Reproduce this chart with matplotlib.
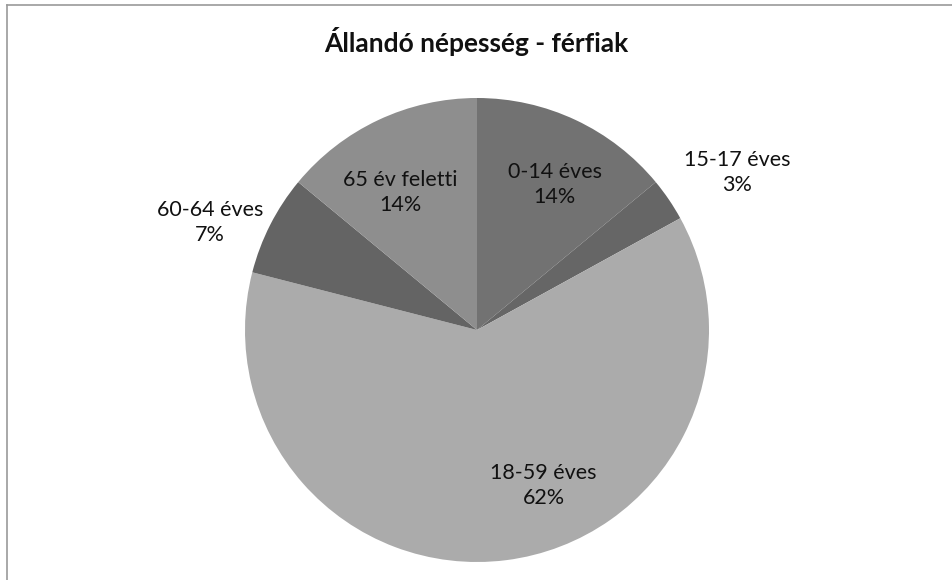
import matplotlib
matplotlib.use("Agg")
import matplotlib.pyplot as plt
import numpy as np

# Data
categories = ["0-14 éves", "15-17 éves", "18-59 éves", "60-64 éves", "65 év feletti"]
values = [14, 3, 62, 7, 14]
title = "Állandó népesség - férfiak"

# Styles
colors = ["#727272", "#666666", "#ababab", "#646464", "#8e8e8e"]
# label placement: (radius fraction, angle offset deg from wedge middle)
label_pos = [(0.71, -3), (1.31, -3), (0.73, 16), (1.24, 5), (0.68, 4)]

plt.rcParams['font.family'] = ['Lato', 'DejaVu Sans']

W, H = 953, 580
fig = plt.figure(figsize=(W / 100, H / 100), dpi=100)
fig.patch.set_facecolor("white")

# frame lines (left and top)
fig.add_artist(plt.Line2D([7 / W, 7 / W], [0, 1 - 5 / H], color="#9a9a9a", lw=1.2))
fig.add_artist(plt.Line2D([7 / W, 1], [1 - 5 / H, 1 - 5 / H], color="#9a9a9a", lw=1.2))

cx, cy, r = 477, 330, 232
ax = fig.add_axes([(cx - r) / W, (H - cy - r) / H, 2 * r / W, 2 * r / H])
wedges, _ = ax.pie(values, colors=colors, startangle=90, counterclock=False,
                   radius=1, wedgeprops=dict(linewidth=0))
ax.set_xlim(-1, 1)
ax.set_ylim(-1, 1)
ax.set_aspect("equal")
ax.axis("off")

total = sum(values)
for w, cat, v, (rf, da) in zip(wedges, categories, values, label_pos):
    mid = (w.theta1 + w.theta2) / 2 + da
    x = rf * np.cos(np.radians(mid))
    y = rf * np.sin(np.radians(mid))
    ax.text(x, y, f"{cat}\n{round(100 * v / total)}%", ha="center", va="center",
            fontsize=15.5, color="#111111", linespacing=1.3, clip_on=False)

fig.text(0.5, 1 - 42 / H, title, ha="center", va="center", fontsize=19,
         fontweight="bold", color="#111111")

fig.savefig("out.png", dpi=100, facecolor="white")
